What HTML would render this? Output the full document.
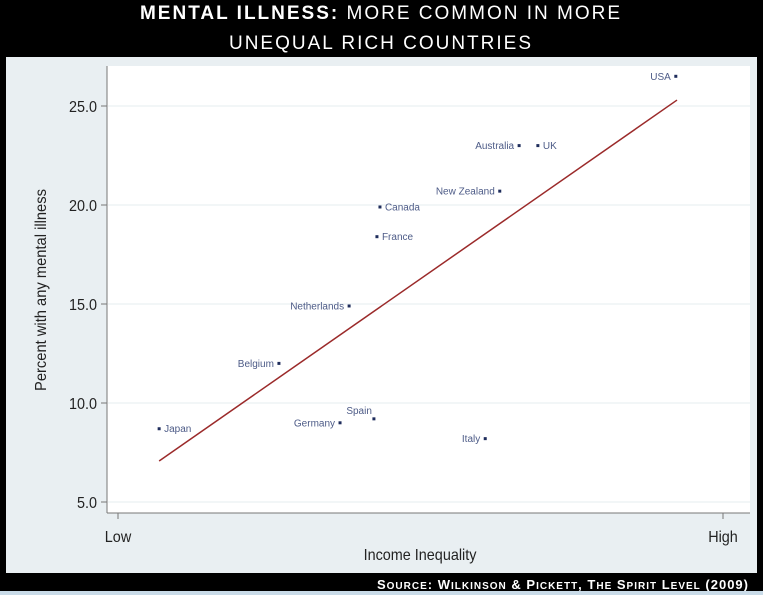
<!DOCTYPE html>
<html><head><meta charset="utf-8"><style>
html,body{margin:0;padding:0;background:#000;width:763px;height:595px;overflow:hidden}
svg{display:block}
</style></head><body>
<svg id="chart" width="763" height="595" xmlns="http://www.w3.org/2000/svg">
  <rect x="0" y="0" width="763" height="595" fill="#000"/>
  <text x="381" y="19" text-anchor="middle" fill="#fff" font-family="Liberation Sans, sans-serif" font-size="19" letter-spacing="2"><tspan font-weight="bold">MENTAL ILLNESS:</tspan> MORE COMMON IN MORE</text>
  <text x="381" y="49" text-anchor="middle" fill="#fff" font-family="Liberation Sans, sans-serif" font-size="19" letter-spacing="2">UNEQUAL RICH COUNTRIES</text>
  <rect x="6" y="57" width="751" height="516" fill="#e9eff2"/>
  <rect x="107" y="66" width="643" height="447" fill="#fff"/>
  <g id="grid"></g>
  <line x1="107" y1="66" x2="107" y2="513" stroke="#777" stroke-width="1"/>
  <line x1="107" y1="513" x2="750" y2="513" stroke="#777" stroke-width="1"/>
  <g id="yticks"></g>
  <g id="xticks"></g>
  <text x="0" y="0" transform="translate(46,290) rotate(-90) scale(0.92,1)" text-anchor="middle" fill="#222" font-family="Liberation Sans, sans-serif" font-size="16">Percent with any mental illness</text>
  <text x="0" y="0" transform="translate(420,560) scale(0.9,1)" text-anchor="middle" fill="#222" font-family="Liberation Sans, sans-serif" font-size="16">Income Inequality</text>
  <g id="trend"></g>
  <g id="points"></g>
  <text x="749" y="589" text-anchor="end" fill="#fff" font-family="Liberation Sans, sans-serif" font-weight="bold" font-size="13" letter-spacing="1">S<tspan font-size="10">OURCE</tspan>: W<tspan font-size="10">ILKINSON</tspan> &amp;  P<tspan font-size="10">ICKETT</tspan>,  T<tspan font-size="10">HE</tspan> S<tspan font-size="10">PIRIT</tspan> L<tspan font-size="10">EVEL</tspan>  (2009)</text>
  <rect x="0" y="591" width="763" height="4" fill="#c9dbe8"/>
</svg>
<script>
const countries = ["Japan","Germany","Spain","Belgium","Netherlands","France","Canada","Italy","New Zealand","Australia","UK","USA"];
const inequality = [6.8,36.7,42.3,26.6,38.2,42.8,43.3,60.7,63.1,66.3,69.4,92.2];
const illness = [8.7,9.0,9.2,12.0,14.9,18.4,19.9,8.2,20.7,23.0,23.0,26.5];
const labelSide = ["right","left","aboveleft","left","left","right","right","left","left","left","right","left"];
const yTicks = [5,10,15,20,25];
const yTickLabels = ["5.0","10.0","15.0","20.0","25.0"];
const xTicks = [0,100];
const xTickLabels = ["Low","High"];
const trendX = [6.8,92.4];
const trendY = [7.07,25.3];

const NS="http://www.w3.org/2000/svg";
function xs(v){return 118+v*6.05;}
function ys(v){return 502-(v-5)*19.8;}
function mk(tag,attrs,parent){const e=document.createElementNS(NS,tag);for(const k in attrs)e.setAttribute(k,attrs[k]);parent.appendChild(e);return e;}

const grid=document.getElementById('grid'),yt=document.getElementById('yticks'),xt=document.getElementById('xticks');
yTicks.forEach((t,i)=>{
  const g=mk('line',{x1:108,x2:750,y1:ys(t),y2:ys(t),stroke:'#f2f6f7','stroke-width':2},grid);
  
  
  const tk=mk('line',{x1:101,x2:107,y1:ys(t),y2:ys(t),stroke:'#777'},yt);
  
  
  const tx=mk('text',{x:0,y:0,transform:'translate(97,'+(ys(t)+6)+') scale(0.9,1)','text-anchor':'end','font-family':'Liberation Sans, sans-serif','font-size':16,fill:'#222'},yt);
  tx.textContent=yTickLabels[i];
  
  
});
xTicks.forEach((t,i)=>{
  const tk=mk('line',{x1:xs(t),x2:xs(t),y1:513,y2:519,stroke:'#777'},xt);
  
  
  const tx=mk('text',{x:0,y:0,transform:'translate('+xs(t)+',542) scale(0.9,1)','text-anchor':'middle','font-family':'Liberation Sans, sans-serif','font-size':16,fill:'#222'},xt);
  tx.textContent=xTickLabels[i];
  
  
});
const tl=mk('line',{x1:xs(trendX[0]),y1:ys(trendY[0]),x2:xs(trendX[1]),y2:ys(trendY[1]),stroke:'#9b2a2a','stroke-width':1.5},document.getElementById('trend'));


const pts=document.getElementById('points');
countries.forEach((c,i)=>{
  const x=xs(inequality[i]),y=ys(illness[i]);
  const d=mk('rect',{x:x-1.5,y:y-1.5,width:3,height:3,fill:'#1f2d5c'},pts);
  
  
  let lx,ly=y+3.5,anc;
  if(labelSide[i]==='right'){lx=x+5;anc='start';}
  else if(labelSide[i]==='left'){lx=x-5;anc='end';}
  else {lx=x-2;ly=y-5;anc='end';}
  const t=mk('text',{x:lx,y:ly,'text-anchor':anc,'font-family':'Liberation Sans, sans-serif','font-size':10,fill:'#4d5b87'},pts);
  t.textContent=c;
  
  
});
</script>
</body></html>
